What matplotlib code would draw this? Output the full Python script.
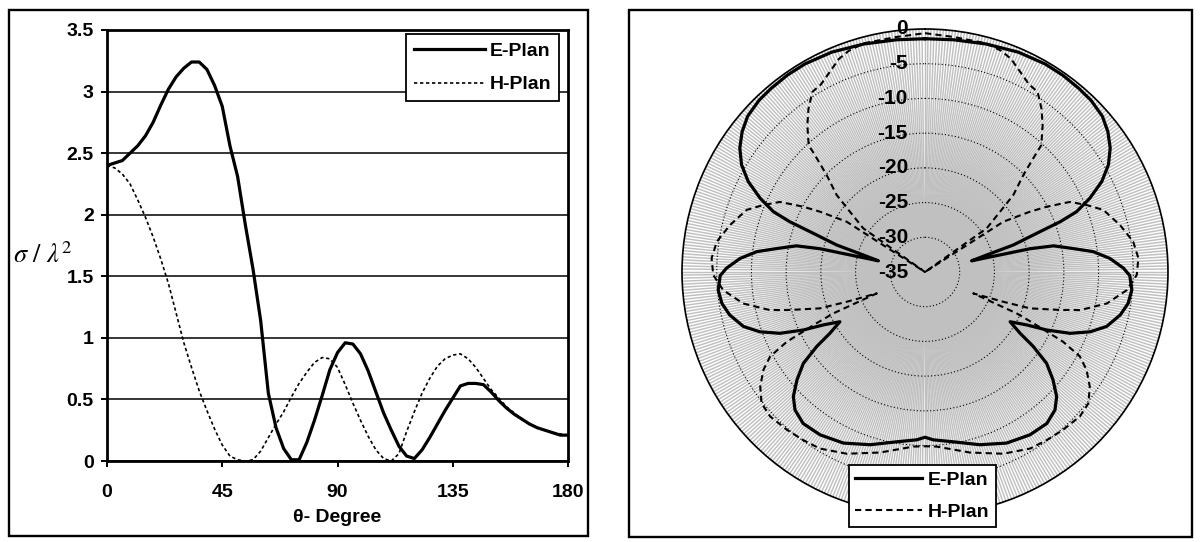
import numpy as np
import matplotlib.pyplot as plt
from matplotlib.patches import Rectangle
from matplotlib import transforms

plt.rcParams['font.family'] = ['Liberation Sans', 'DejaVu Sans']
plt.rcParams['mathtext.fontset'] = 'stix'

# normalised RCS against incidence angle (left panel)
theta_deg = [0, 3, 6, 9, 12, 15, 18, 21, 24, 27, 30, 33, 36, 39, 42, 45, 48, 51,
             54, 57, 60, 63, 66, 69, 72, 75, 78, 81, 84, 87, 90, 93, 96, 99, 102,
             105, 108, 111, 114, 117, 120, 123, 126, 129, 132, 135, 138, 141, 144,
             147, 150, 153, 156, 159, 162, 165, 168, 171, 174, 177, 180]
e_plane = [2.40, 2.42, 2.44, 2.50, 2.56, 2.64, 2.75, 2.89, 3.02, 3.12, 3.19, 3.24,
           3.24, 3.18, 3.05, 2.88, 2.56, 2.31, 1.92, 1.56, 1.14, 0.55, 0.27, 0.10,
           0.01, 0.01, 0.15, 0.33, 0.53, 0.74, 0.88, 0.96, 0.95, 0.87, 0.73, 0.56,
           0.39, 0.25, 0.12, 0.04, 0.02, 0.09, 0.19, 0.30, 0.41, 0.51, 0.61, 0.63,
           0.63, 0.62, 0.56, 0.49, 0.43, 0.38, 0.34, 0.30, 0.27, 0.25, 0.23, 0.21,
           0.21]
h_plane = [2.40, 2.38, 2.33, 2.25, 2.12, 1.98, 1.82, 1.64, 1.44, 1.20, 0.96, 0.76,
           0.57, 0.41, 0.26, 0.13, 0.04, 0.01, 0.00, 0.01, 0.08, 0.19, 0.30, 0.40,
           0.52, 0.63, 0.72, 0.80, 0.84, 0.83, 0.76, 0.62, 0.47, 0.33, 0.20, 0.09,
           0.02, 0.00, 0.06, 0.24, 0.40, 0.55, 0.67, 0.77, 0.83, 0.86, 0.87, 0.83,
           0.76, 0.67, 0.58, 0.51, 0.44, 0.39, 0.34, 0.30, 0.27, 0.25, 0.23, 0.22,
           0.21]

# pattern in dB, 0..180 deg (right half of the polar plot)
e_pol_deg = [0, 7, 15, 23, 30, 35, 40, 44, 48.7, 52.5, 56.2, 59.7, 62.9, 65.9, 68.3,
             69.6, 70.9, 73.0, 74.6, 76.5, 77.5, 78.5, 81.0, 83.1, 85.8, 88.9, 91,
             95, 98.8, 102.4, 106.7, 109.9, 112.9, 115.5, 117.5, 120.3, 122.8, 124.5,
             126.9, 130.1, 133.4, 136.7, 141.2, 147.2, 154.5, 162.4, 170.5, 177.2, 180]
e_pol_db = [-1.4, -1.3, -1.0, -0.6, -0.4, -0.4, -0.5, -0.6, -1.0, -1.8, -2.9, -4.4,
            -6.4, -9.0, -11.5, -14.2, -18.0, -21.7, -25.8, -28.1, -19.5, -16.1, -13.4,
            -10.6, -8.3, -6.4, -5.5, -5.1, -5.4, -6.2, -7.7, -9.7, -12.3, -15.6,
            -18.5, -20.8, -18.7, -16.1, -13.1, -10.9, -8.9, -7.7, -7.0, -7.1, -7.7,
            -8.9, -10.2, -10.8, -11.2]
h_pol_deg = [0, 7, 15, 19, 22, 29, 32, 35.5, 38.7, 42.5, 43.6, 45.4, 48.9, 51.2, 54.7,
             56, 57.3, 60.1, 61.8, 64.2, 67.5, 70.8, 76.5, 81.7, 86.3, 90.8, 95.1,
             99.8, 103.8, 105.7, 109.1, 110.8, 113.9, 114.3, 115.3, 116.8, 118.6,
             121.2, 124.8, 128.8, 133, 138.8, 144, 149.2, 156.7, 166, 176.2, 180]
h_pol_db = [-0.6, -0.9, -0.9, -1.3, -1.9, -4.1, -4.4, -6.1, -7.9, -10.2, -12.4, -15.1,
            -18.1, -21.1, -24.1, -35.0, -21.6, -17.6, -15.1, -11.8, -9.8, -7.8, -6.1,
            -4.7, -4.2, -4.5, -5.8, -8.4, -12.0, -14.8, -19.0, -22.9, -27.4, -20.5,
            -17.7, -12.7, -9.6, -7.8, -6.1, -4.8, -4.5, -4.8, -5.1, -5.4, -6.5, -8.2,
            -9.8, -9.9]

x_ticks = [0, 45, 90, 135, 180]
y_ticks = [0, 0.5, 1, 1.5, 2, 2.5, 3, 3.5]
r_ticks = [0, -5, -10, -15, -20, -25, -30, -35]
n_spokes = 500

W, H = 1200, 542
BOLD14 = {'weight': 'bold', 'size': 14}


def full_circle(deg, db):
    # the pattern is symmetric, so the left half is the mirror of the right one
    deg = np.asarray(deg, dtype=float)
    db = np.asarray(db, dtype=float)
    ang = np.concatenate([deg, 360 - deg[::-1]])
    val = np.concatenate([db, db[::-1]])
    return np.deg2rad(ang), val


def frame(fig, x0, y0, x1, y1):
    fig.add_artist(Rectangle((x0 / W, 1 - y1 / H), (x1 - x0) / W, (y1 - y0) / H,
                             transform=fig.transFigure, fill=False,
                             edgecolor='black', linewidth=1.7))


def style_legend(leg):
    leg.get_frame().set_edgecolor('black')
    leg.get_frame().set_linewidth(1.3)


fig = plt.figure(figsize=(W / 100, H / 100), dpi=100)

# ---- left: sigma / lambda^2 vs theta ----
ax = fig.add_axes([107 / W, 1 - 461 / H, 461 / W, 431 / H])
ax.plot(theta_deg, e_plane, color='black', lw=2.3, label='E-Plan')
ax.plot(theta_deg, h_plane, color='black', lw=1.2, ls=(0, (2, 1.6)), label='H-Plan')
ax.set_xlim(0, 180)
ax.set_ylim(0, 3.5)
ax.set_xticks(x_ticks)
ax.set_yticks(y_ticks)
ax.set_yticklabels(['{:g}'.format(v) for v in y_ticks])
ax.yaxis.grid(True, color='black', lw=1.1)
ax.set_axisbelow(True)
for s in ax.spines.values():
    s.set_linewidth(2.0)
ax.tick_params(direction='out', length=4.5, width=1.4, labelsize=14)
ax.tick_params(axis='x', pad=12)
ax.tick_params(axis='y', pad=5)
plt.setp(ax.get_xticklabels() + ax.get_yticklabels(), fontweight='bold')

fig.text(337 / W, 1 - 517 / H, 'θ- Degree', ha='center', va='center',
         fontsize=14, fontweight='bold')
fig.text(13 / W, 1 - 255 / H, r'$\sigma\ /\ \lambda^{2}$', ha='left', va='center',
         fontsize=19)

leg = ax.legend(loc='upper right', bbox_to_anchor=(559 / W, 1 - 34 / H),
                bbox_transform=fig.transFigure, borderaxespad=0, fancybox=False,
                framealpha=1, prop=BOLD14, handlelength=3.65, handletextpad=0.25,
                borderpad=0.41, labelspacing=0.83)
style_legend(leg)

# ---- right: radar pattern in dB ----
R = 243
cx, cy = 925, 272
axp = fig.add_axes([(cx - R) / W, 1 - (cy + R) / H, 2 * R / W, 2 * R / H],
                   projection='polar')
axp.set_theta_zero_location('N')
axp.set_theta_direction(-1)
axp.set_ylim(-35, 0)
axp.set_xticks(np.linspace(0, 2 * np.pi, n_spokes, endpoint=False))
axp.set_xticklabels([])
axp.xaxis.grid(True, color='#c0c0c0', lw=1.05, ls='-')
axp.set_yticks(r_ticks)
axp.set_yticklabels([])
axp.yaxis.grid(True, color='black', lw=0.8, ls=(0, (1, 2)))
axp.tick_params(length=0)
axp.spines['polar'].set_linewidth(1.2)

t, v = full_circle(e_pol_deg, e_pol_db)
axp.plot(t, v, color='black', lw=2.3, label='E-Plan')
t, v = full_circle(h_pol_deg, h_pol_db)
axp.plot(t, v, color='black', lw=1.5, ls=(0, (3, 2)), label='H-Plan')

lab_tr = transforms.offset_copy(axp.transData, fig=fig, x=-17, y=0, units='dots')
for r in r_ticks:
    axp.text(0, r, str(r), transform=lab_tr, ha='right', va='center',
             fontsize=15, fontweight='bold', zorder=5)

leg2 = axp.legend(loc='upper left', bbox_to_anchor=(849 / W, 1 - 465 / H),
                  bbox_transform=fig.transFigure, borderaxespad=0, fancybox=False,
                  framealpha=1, prop=BOLD14, handlelength=3.45, handletextpad=0.3,
                  borderpad=0.32, labelspacing=0.75)
style_legend(leg2)

frame(fig, 9, 10, 588, 536)
frame(fig, 629, 10, 1192, 537)

fig.savefig('out.png', dpi=100, facecolor='white')
